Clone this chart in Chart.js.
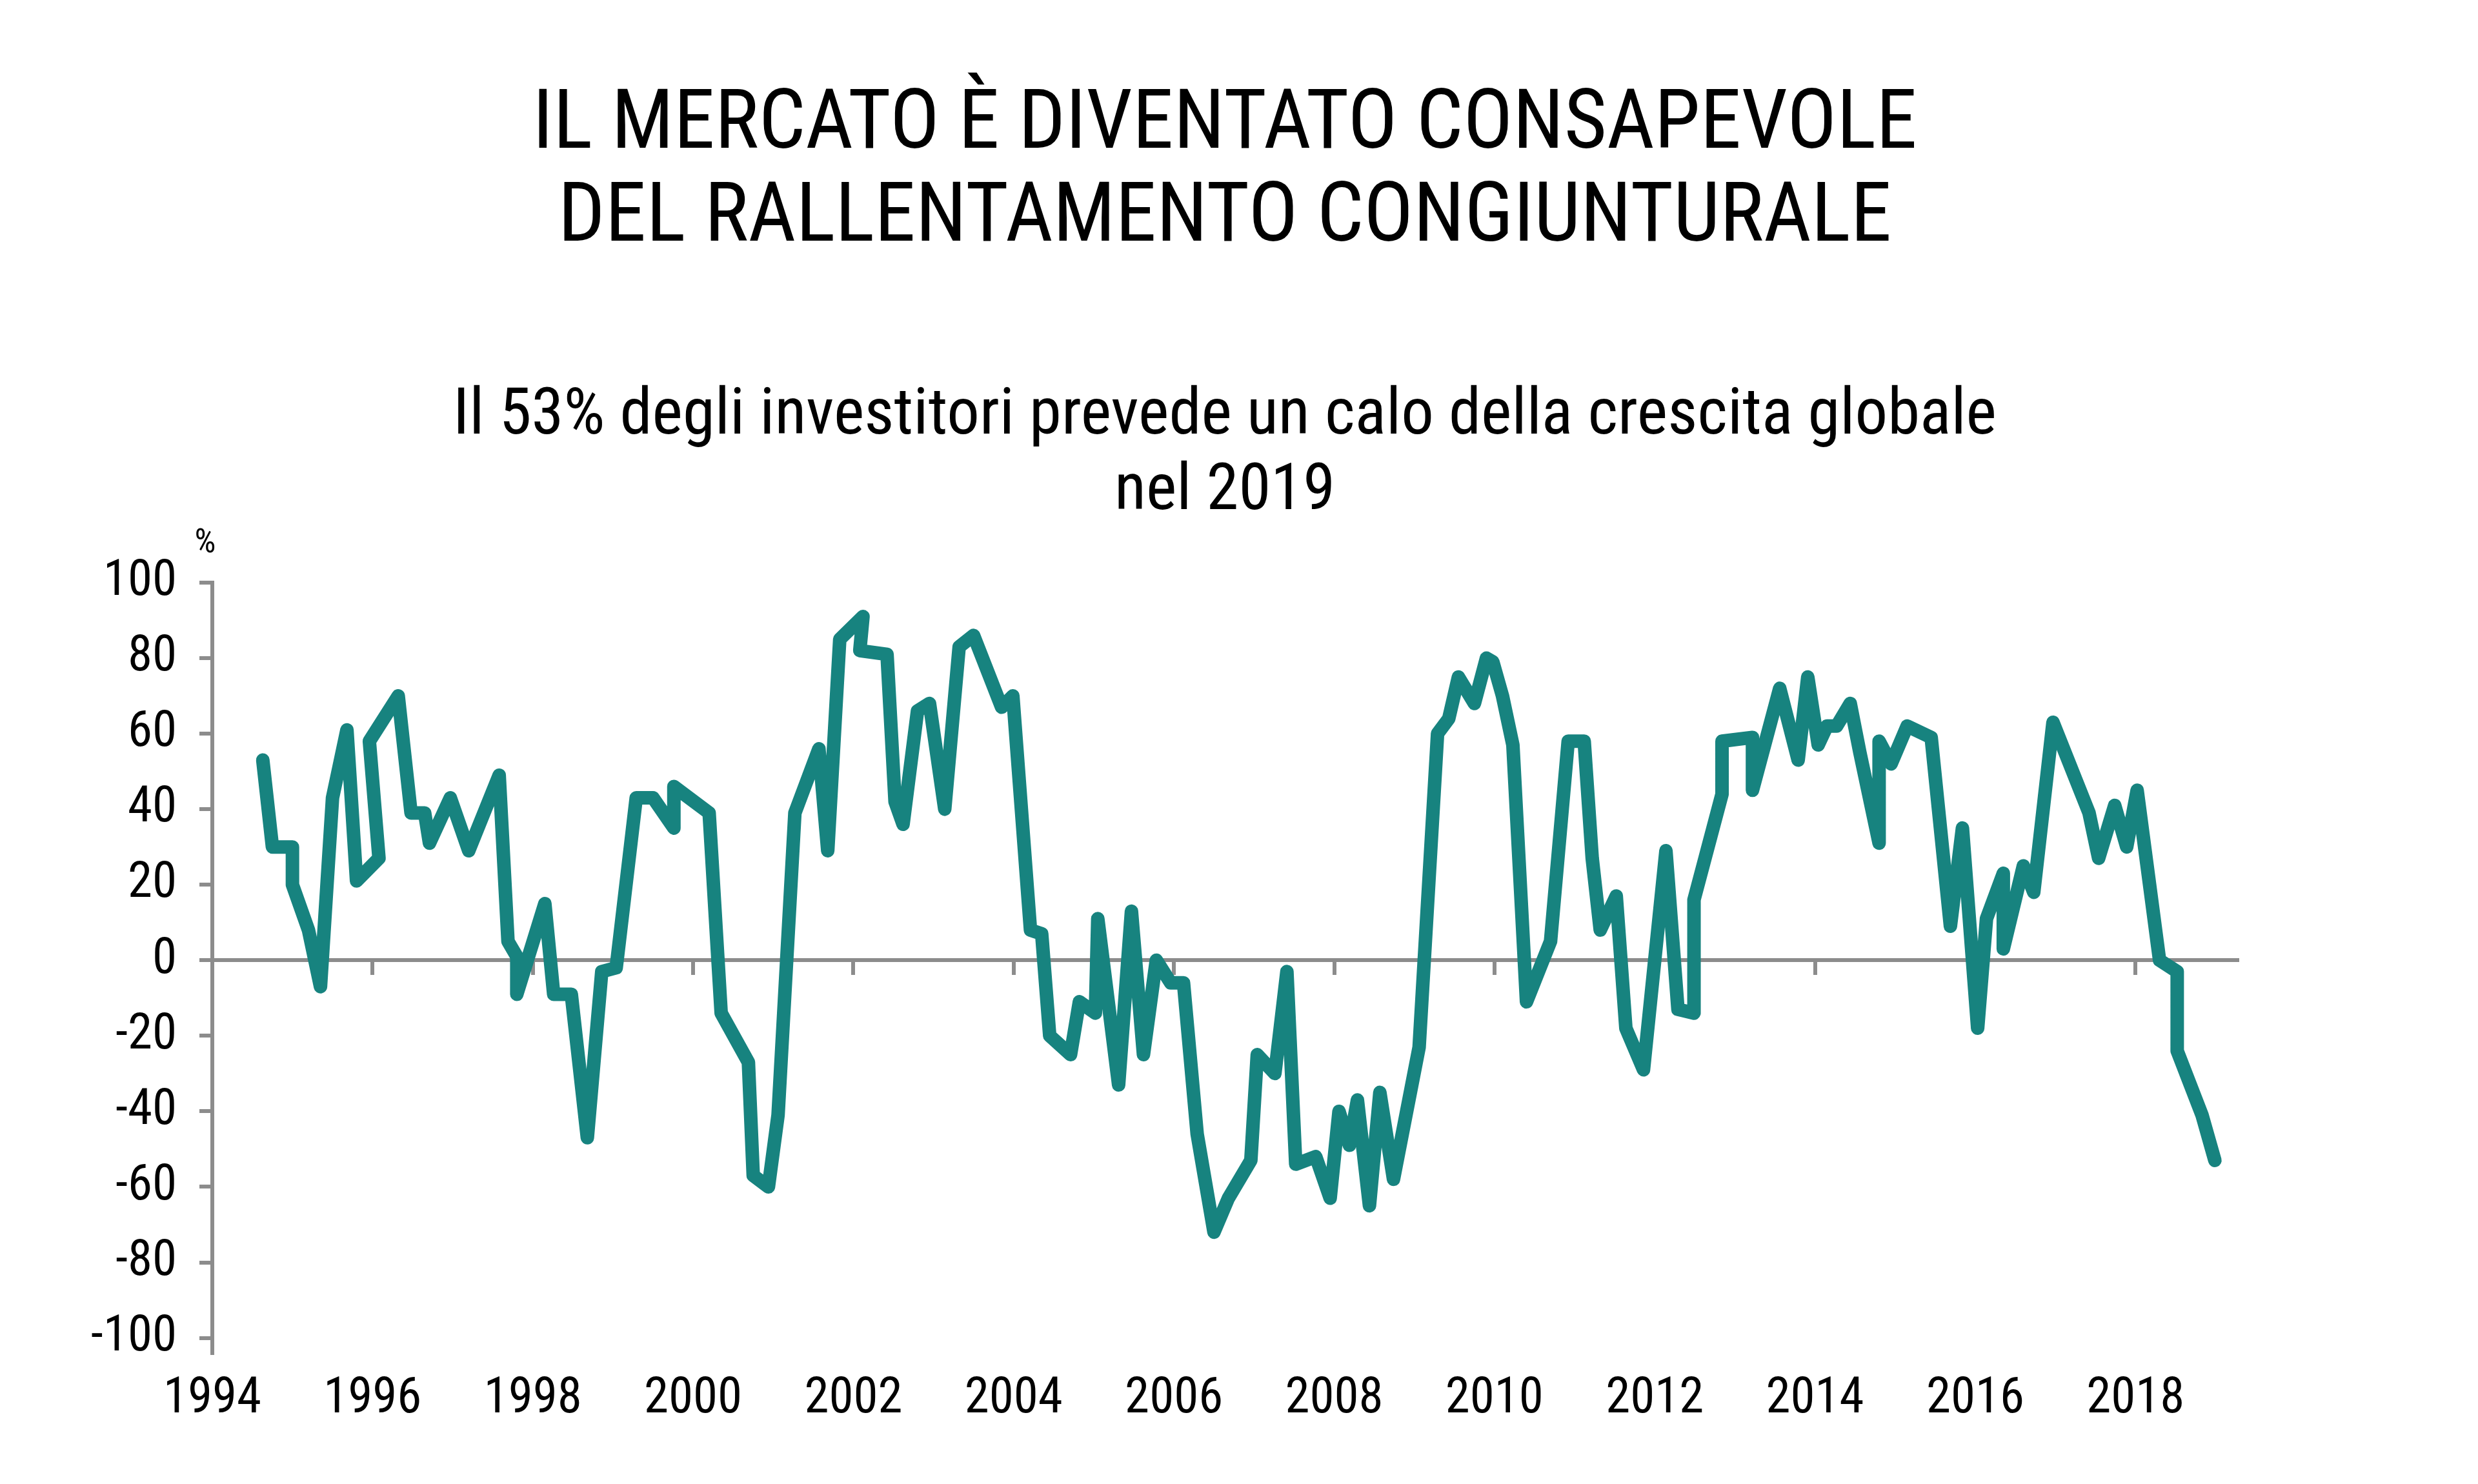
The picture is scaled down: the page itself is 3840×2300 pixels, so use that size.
<!DOCTYPE html>
<html lang="it">
<head>
<meta charset="utf-8">
<title>Il mercato è diventato consapevole del rallentamento congiunturale</title>
<script src="https://cdn.jsdelivr.net/npm/chart.js@4"></script>
<style>
  html, body { margin: 0; padding: 0; background: #fff; }
  #wrap { width: 3840px; height: 2300px; position: relative; }
</style>
</head>
<body>
<div id="wrap"><canvas id="myChart"></canvas></div>
<script>
const titleLines = ['IL MERCATO È DIVENTATO CONSAPEVOLE', 'DEL RALLENTAMENTO CONGIUNTURALE'];
const subtitleLines = ['Il 53% degli investitori prevede un calo della crescita globale', 'nel 2019'];
const unitLabel = '%';

// date in anni decimali
const dates = [
  1994.63, 1994.75, 1995.00, 1995.00, 1995.20, 1995.35, 1995.50, 1995.68, 1995.80, 1996.08,
  1995.96, 1996.32, 1996.48, 1996.65, 1996.71, 1996.97, 1997.20, 1997.58, 1997.69, 1997.80,
  1997.80, 1998.15, 1998.26, 1998.48, 1998.68, 1998.86, 1999.04, 1999.29, 1999.50, 1999.76,
  1999.76, 2000.20, 2000.35, 2000.69, 2000.75, 2000.94, 2001.06, 2001.27, 2001.57, 2001.68,
  2001.83, 2002.12, 2002.08, 2002.42, 2002.52, 2002.62, 2002.80, 2002.95, 2003.14, 2003.32,
  2003.50, 2003.85, 2003.99, 2004.21, 2004.35, 2004.45, 2004.71, 2004.82, 2005.02, 2005.05,
  2005.31, 2005.47, 2005.62, 2005.78, 2005.96, 2006.12, 2006.29, 2006.50, 2006.68, 2006.96,
  2007.04, 2007.26, 2007.41, 2007.52, 2007.77, 2007.95, 2008.06, 2008.19, 2008.29, 2008.44,
  2008.57, 2008.74, 2009.06, 2009.29, 2009.43, 2009.55, 2009.75, 2009.90, 2009.98, 2010.10,
  2010.23, 2010.40, 2010.70, 2010.92, 2011.12, 2011.22, 2011.32, 2011.52, 2011.64, 2011.86,
  2012.14, 2012.29, 2012.49, 2012.49, 2012.84, 2012.84, 2013.22, 2013.22, 2013.56, 2013.79,
  2013.91, 2014.04, 2014.15, 2014.27, 2014.44, 2014.56, 2014.80, 2014.80, 2014.95, 2015.15,
  2015.45, 2015.69, 2015.84, 2016.03, 2016.14, 2016.35, 2016.35, 2016.60, 2016.73, 2016.97,
  2017.42, 2017.54, 2017.74, 2017.89, 2018.02, 2018.30, 2018.52, 2018.52, 2018.83, 2018.99
];
const values = [
  53, 30, 30, 20, 8, -7, 43, 61, 21, 27,
  58, 70, 39, 39, 31, 43, 29, 49, 5, 1,
  -9, 15, -9, -9, -47, -3, -2, 43, 43, 35,
  46, 39, -14, -27, -57, -60, -41, 39, 56, 29,
  85, 91, 82, 81, 42, 36, 66, 68, 40, 83,
  86, 67, 70, 8, 7, -20, -25, -11, -14, 11,
  -33, 13, -25, 0, -6, -6, -46, -72, -63, -53,
  -25, -30, -3, -54, -52, -63, -40, -49, -37, -65,
  -35, -58, -23, 60, 64, 75, 68, 80, 79, 70,
  57, -11, 5, 58, 58, 27, 8, 17, -18, -29,
  29, -13, -14, 16, 44, 58, 59, 45, 72, 53,
  75, 57, 62, 62, 68, 55, 31, 58, 52, 62,
  59, 9, 35, -18, 11, 23, 3, 25, 18, 63,
  39, 27, 41, 30, 45, 0, -3, -24, -41, -53
];

const yTicks = [-100, -80, -60, -40, -20, 0, 20, 40, 60, 80, 100];
const xTicks = [1994, 1996, 1998, 2000, 2002, 2004, 2006, 2008, 2010, 2012, 2014, 2016, 2018];

// Roboto è variabile: "condensed" dà un carattere stretto simile all'originale
const FONT = "Roboto, 'DejaVu Sans Condensed', sans-serif";
const WEIGHT = '400 condensed';
const GRAY = '#8c8c8c';
const TEAL = '#17837f';

// etichetta "%" sopra l'asse y
const unitPlugin = {
  id: 'unitLabel',
  afterDraw(chart) {
    const { ctx, chartArea } = chart;
    ctx.save();
    ctx.font = WEIGHT + ' 52px ' + FONT;
    ctx.fillStyle = '#000';
    ctx.textAlign = 'center';
    ctx.textBaseline = 'middle';
    ctx.fillText(unitLabel, chartArea.left - 11, chartArea.top - 60);
    ctx.restore();
  }
};

const points = dates.map((d, i) => ({ x: d, y: values[i] }));

const config = {
  type: 'line',
  data: {
    datasets: [
      {
        label: 'Investitori',
        data: points,
        borderColor: TEAL,
        backgroundColor: TEAL,
        borderWidth: 21,
        pointRadius: 0,
        tension: 0,
        borderCapStyle: 'round',
        borderJoinStyle: 'round',
        xAxisID: 'x',
        yAxisID: 'y',
      },
    ],
  },
  options: {
    responsive: true,
    maintainAspectRatio: false,
    animation: false,
    layout: { padding: { left: 0, right: 373, top: 0, bottom: 0 } },
    plugins: {
      legend: { display: false },
      tooltip: { enabled: false },
      title: {
        display: true,
        fullSize: false,
        text: titleLines,
        color: '#000',
        font: { size: 128, family: FONT, weight: WEIGHT, lineHeight: 1.125 },
        padding: { top: 125, bottom: 0 },
      },
      subtitle: {
        display: true,
        fullSize: false,
        text: subtitleLines,
        color: '#000',
        font: { size: 101, family: FONT, weight: WEIGHT, lineHeight: 1.158 },
        padding: { top: 175, bottom: 81 },
      },
    },
    scales: {
      x: {
        type: 'linear',
        position: 'bottom',
        min: 1994,
        max: 2019.27,
        grid: { display: false },
        border: { display: false },
        afterBuildTicks: s => { s.ticks = xTicks.map(v => ({ value: v })); },
        afterFit: s => { s.height = 203; },
        ticks: {
          color: '#000',
          font: { size: 77, family: FONT, weight: WEIGHT },
          padding: 19,
          maxRotation: 0,
          autoSkip: false,
          callback: v => String(v),
        },
      },
      xZero: {
        type: 'linear',
        axis: 'x',
        position: { y: 0 },
        min: 1994,
        max: 2019.27,
        grid: { drawOnChartArea: false, drawTicks: true, tickLength: 20, color: GRAY, lineWidth: 6 },
        border: { display: true, color: GRAY, width: 6 },
        ticks: { display: false },
        afterBuildTicks: s => { s.ticks = xTicks.map(v => ({ value: v })); },
      },
      y: {
        type: 'linear',
        position: 'left',
        min: -104,
        max: 100,
        grid: { drawOnChartArea: false, drawTicks: true, tickLength: 20, color: GRAY, lineWidth: 6 },
        border: { display: true, color: GRAY, width: 6 },
        afterBuildTicks: s => { s.ticks = yTicks.map(v => ({ value: v })); },
        afterFit: s => { s.width = 329; },
        ticks: {
          color: '#000',
          font: { size: 77, family: FONT, weight: WEIGHT },
          padding: 35,
          autoSkip: false,
          callback: v => String(v),
        },
      },
    },
  },
  plugins: [unitPlugin],
};

var myChart = new Chart(document.getElementById('myChart'), config);
</script>
</body>
</html>
